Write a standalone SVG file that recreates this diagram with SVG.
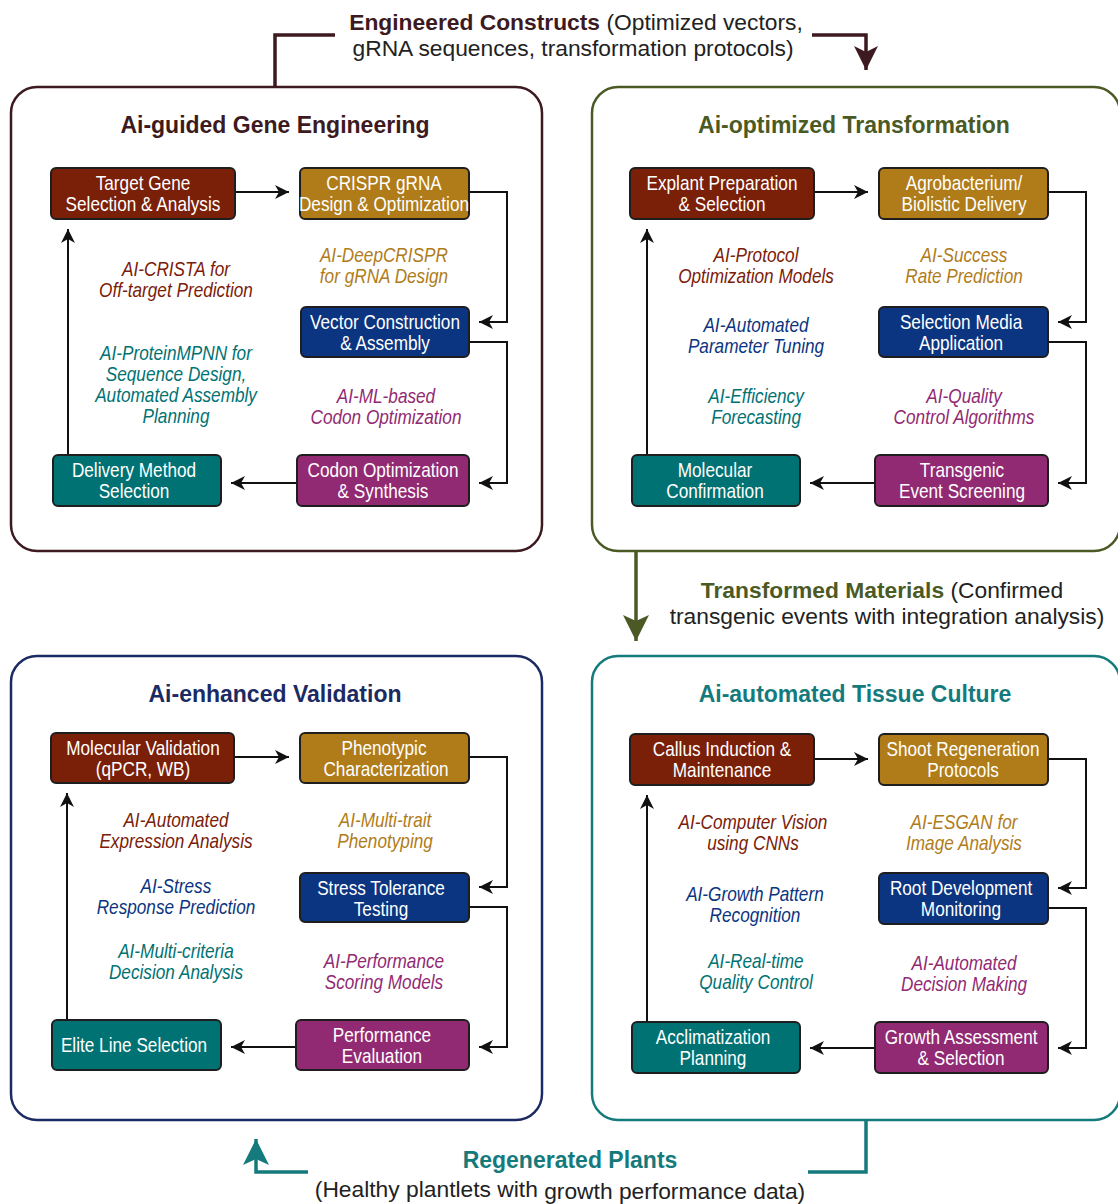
<svg xmlns="http://www.w3.org/2000/svg" width="1118" height="1204" viewBox="0 0 1118 1204">
  <style>
    .panel { fill: #ffffff; stroke-width: 2.5; }
    .box { stroke: #1e1e1e; stroke-width: 2; }
    .red { fill: #7b2008; }
    .gold { fill: #b07c19; }
    .navy { fill: #0b3580; }
    .purple { fill: #912a73; }
    .teal { fill: #007273; }
    .nt, .lb { font-family: "Liberation Sans", Arial, sans-serif; font-size: 20px; text-anchor: middle;
               transform-box: fill-box; transform-origin: center; transform: scaleX(0.86); }
    .nt { fill: #ffffff; }
    .lb { font-style: italic; }
    .ttl { font-family: "Liberation Sans", Arial, sans-serif; font-size: 23px; font-weight: bold; text-anchor: middle; }
    .cap { font-family: "Liberation Sans", Arial, sans-serif; font-size: 22.8px; fill: #222222; text-anchor: middle; }
    .flow { fill: none; stroke: #111111; stroke-width: 2; marker-end: url(#ah); }
    .c-red { fill: #7b2008; }
    .c-gold { fill: #b07c19; }
    .c-navy { fill: #0b3580; }
    .c-purple { fill: #912a73; }
    .c-teal { fill: #007273; }
  </style>
  <defs>
    <marker id="ah" markerWidth="16" markerHeight="16" refX="14" refY="8" orient="auto" markerUnits="userSpaceOnUse">
      <path d="M0,1 L14,8 L0,15 L4,8 z" fill="#111111"/>
    </marker>
    <marker id="bigMaroon" markerWidth="26" markerHeight="26" refX="24" refY="13" orient="auto" markerUnits="userSpaceOnUse">
      <path d="M0,1 L24,13 L0,25 L6,13 z" fill="#3c1a20"/>
    </marker>
    <marker id="bigOlive" markerWidth="28" markerHeight="28" refX="26" refY="14" orient="auto" markerUnits="userSpaceOnUse">
      <path d="M0,1 L26,14 L0,27 L6,14 z" fill="#4b5a24"/>
    </marker>
    <marker id="bigTeal" markerWidth="28" markerHeight="28" refX="26" refY="14" orient="auto" markerUnits="userSpaceOnUse">
      <path d="M0,1 L26,14 L0,27 L6,14 z" fill="#157a7c"/>
    </marker>
  </defs>

  <!-- stage panels -->
  <g id="panel-gene-engineering">
    <rect class="panel" x="11" y="87" width="531" height="464" rx="26" stroke="#3c1a20"/>
    <text class="ttl" x="275" y="133" fill="#3c1a20">Ai-guided Gene Engineering</text>
  </g>
  <g id="panel-transformation">
    <rect class="panel" x="592" y="87" width="528" height="464" rx="26" stroke="#4b5a24"/>
    <text class="ttl" x="854" y="133" fill="#4b5a24">Ai-optimized Transformation</text>
  </g>
  <g id="panel-validation">
    <rect class="panel" x="11" y="656" width="531" height="464" rx="26" stroke="#1c2a63"/>
    <text class="ttl" x="275" y="702" fill="#1c2a63">Ai-enhanced Validation</text>
  </g>
  <g id="panel-tissue-culture">
    <rect class="panel" x="592" y="656" width="528" height="464" rx="26" stroke="#157a7c"/>
    <text class="ttl" x="855" y="702" fill="#157a7c">Ai-automated Tissue Culture</text>
  </g>

  <!-- hand-off connectors between stages -->
  <g id="stage-connectors">
    <path d="M275,87 V35 H335" fill="none" stroke="#3c1a20" stroke-width="3.5"/>
    <path d="M812,35 H866 V70" fill="none" stroke="#3c1a20" stroke-width="3.5" marker-end="url(#bigMaroon)"/>
    <path d="M636,551 V641" fill="none" stroke="#4b5a24" stroke-width="3.5" marker-end="url(#bigOlive)"/>
    <path d="M866,1120 V1172 H808" fill="none" stroke="#157a7c" stroke-width="3.5"/>
    <path d="M308,1172 H256 V1139" fill="none" stroke="#157a7c" stroke-width="3.5" marker-end="url(#bigTeal)"/>
  </g>

  <!-- hand-off captions -->
  <g id="caption-constructs">
    <text class="cap" x="576" y="30"><tspan font-weight="bold" fill="#3c1a20">Engineered Constructs</tspan> (Optimized vectors,</text>
    <text class="cap" x="573" y="56">gRNA sequences, transformation protocols)</text>
  </g>
  <g id="caption-materials">
    <text class="cap" x="882" y="598"><tspan font-weight="bold" fill="#4b5a24">Transformed Materials</tspan> (Confirmed</text>
    <text class="cap" x="887" y="624">transgenic events with integration analysis)</text>
  </g>
  <g id="caption-plants">
    <text class="ttl" x="570" y="1168" fill="#157a7c">Regenerated Plants</text>
    <text class="cap" x="560" y="1197">(Healthy plantlets with <tspan dy="2">growth performance data)</tspan></text>
  </g>

  <!-- step connectors inside panels -->
  <g id="step-connectors">
    <path class="flow" d="M235,192 H289"/>
    <path class="flow" d="M469,192 H507 V322 H479"/>
    <path class="flow" d="M469,342 H507 V483 H479"/>
    <path class="flow" d="M297,483 H231"/>
    <path class="flow" d="M68,455 V229"/>

    <path class="flow" d="M814,192 H868"/>
    <path class="flow" d="M1048,192 H1086 V322 H1058"/>
    <path class="flow" d="M1048,342 H1086 V483 H1058"/>
    <path class="flow" d="M875,483 H810"/>
    <path class="flow" d="M647,455 V229"/>

    <path class="flow" d="M234,757 H289"/>
    <path class="flow" d="M469,757 H507 V887 H479"/>
    <path class="flow" d="M469,907 H507 V1047 H479"/>
    <path class="flow" d="M296,1047 H231"/>
    <path class="flow" d="M67,1020 V793"/>

    <path class="flow" d="M814,759 H868"/>
    <path class="flow" d="M1048,759 H1086 V888 H1058"/>
    <path class="flow" d="M1048,908 H1086 V1048 H1058"/>
    <path class="flow" d="M875,1048 H810"/>
    <path class="flow" d="M647,1022 V795"/>
  </g>

  <!-- gene engineering steps -->
  <g id="target-gene">
    <rect class="box red" x="51" y="168" width="184" height="51" rx="5"/>
    <text class="nt" x="143" y="190">Target Gene</text>
    <text class="nt" x="143" y="211">Selection &amp; Analysis</text>
  </g>
  <g id="crispr-grna">
    <rect class="box gold" x="300" y="168" width="169" height="51" rx="5"/>
    <text class="nt" x="384" y="190">CRISPR gRNA</text>
    <text class="nt" x="384" y="211">Design &amp; Optimization</text>
  </g>
  <g id="vector-construction">
    <rect class="box navy" x="301" y="307" width="168" height="50" rx="5"/>
    <text class="nt" x="385" y="329">Vector Construction</text>
    <text class="nt" x="385" y="350">&amp; Assembly</text>
  </g>
  <g id="codon-optimization">
    <rect class="box purple" x="297" y="455" width="172" height="51" rx="5"/>
    <text class="nt" x="383" y="477">Codon Optimization</text>
    <text class="nt" x="383" y="498">&amp; Synthesis</text>
  </g>
  <g id="delivery-method">
    <rect class="box teal" x="53" y="455" width="168" height="51" rx="5"/>
    <text class="nt" x="134" y="477">Delivery Method</text>
    <text class="nt" x="134" y="498">Selection</text>
  </g>
  <g id="gene-engineering-notes">
    <text class="lb c-red" x="176" y="276">AI-CRISTA for</text>
    <text class="lb c-red" x="176" y="297">Off-target Prediction</text>
    <text class="lb c-gold" x="384" y="262">AI-DeepCRISPR</text>
    <text class="lb c-gold" x="384" y="283">for gRNA Design</text>
    <text class="lb c-teal" x="176" y="360">AI-ProteinMPNN for</text>
    <text class="lb c-teal" x="176" y="381">Sequence Design,</text>
    <text class="lb c-teal" x="176" y="402">Automated Assembly</text>
    <text class="lb c-teal" x="176" y="423">Planning</text>
    <text class="lb c-purple" x="386" y="403">AI-ML-based</text>
    <text class="lb c-purple" x="386" y="424">Codon Optimization</text>
  </g>

  <!-- transformation steps -->
  <g id="explant-preparation">
    <rect class="box red" x="630" y="168" width="184" height="51" rx="5"/>
    <text class="nt" x="722" y="190">Explant Preparation</text>
    <text class="nt" x="722" y="211">&amp; Selection</text>
  </g>
  <g id="agrobacterium-delivery">
    <rect class="box gold" x="879" y="168" width="169" height="51" rx="5"/>
    <text class="nt" x="964" y="190">Agrobacterium/</text>
    <text class="nt" x="964" y="211">Biolistic Delivery</text>
  </g>
  <g id="selection-media">
    <rect class="box navy" x="879" y="307" width="169" height="50" rx="5"/>
    <text class="nt" x="961" y="329">Selection Media</text>
    <text class="nt" x="961" y="350">Application</text>
  </g>
  <g id="transgenic-screening">
    <rect class="box purple" x="875" y="455" width="173" height="51" rx="5"/>
    <text class="nt" x="962" y="477">Transgenic</text>
    <text class="nt" x="962" y="498">Event Screening</text>
  </g>
  <g id="molecular-confirmation">
    <rect class="box teal" x="632" y="455" width="168" height="51" rx="5"/>
    <text class="nt" x="715" y="477">Molecular</text>
    <text class="nt" x="715" y="498">Confirmation</text>
  </g>
  <g id="transformation-notes">
    <text class="lb c-red" x="756" y="262">AI-Protocol</text>
    <text class="lb c-red" x="756" y="283">Optimization Models</text>
    <text class="lb c-gold" x="964" y="262">AI-Success</text>
    <text class="lb c-gold" x="964" y="283">Rate Prediction</text>
    <text class="lb c-navy" x="756" y="332">AI-Automated</text>
    <text class="lb c-navy" x="756" y="353">Parameter Tuning</text>
    <text class="lb c-teal" x="756" y="403">AI-Efficiency</text>
    <text class="lb c-teal" x="756" y="424">Forecasting</text>
    <text class="lb c-purple" x="964" y="403">AI-Quality</text>
    <text class="lb c-purple" x="964" y="424">Control Algorithms</text>
  </g>

  <!-- validation steps -->
  <g id="molecular-validation">
    <rect class="box red" x="51" y="733" width="183" height="50" rx="5"/>
    <text class="nt" x="143" y="755">Molecular Validation</text>
    <text class="nt" x="143" y="776">(qPCR, WB)</text>
  </g>
  <g id="phenotypic-characterization">
    <rect class="box gold" x="300" y="733" width="169" height="50" rx="5"/>
    <text class="nt" x="384" y="755">Phenotypic</text>
    <text class="nt" x="386" y="776">Characterization</text>
  </g>
  <g id="stress-tolerance">
    <rect class="box navy" x="300" y="873" width="169" height="49" rx="5"/>
    <text class="nt" x="381" y="895">Stress Tolerance</text>
    <text class="nt" x="381" y="916">Testing</text>
  </g>
  <g id="performance-evaluation">
    <rect class="box purple" x="296" y="1020" width="173" height="50" rx="5"/>
    <text class="nt" x="382" y="1042">Performance</text>
    <text class="nt" x="382" y="1063">Evaluation</text>
  </g>
  <g id="elite-line">
    <rect class="box teal" x="52" y="1020" width="169" height="50" rx="5"/>
    <text class="nt" x="134" y="1052">Elite Line Selection</text>
  </g>
  <g id="validation-notes">
    <text class="lb c-red" x="176" y="827">AI-Automated</text>
    <text class="lb c-red" x="176" y="848">Expression Analysis</text>
    <text class="lb c-gold" x="385" y="827">AI-Multi-trait</text>
    <text class="lb c-gold" x="385" y="848">Phenotyping</text>
    <text class="lb c-navy" x="176" y="893">AI-Stress</text>
    <text class="lb c-navy" x="176" y="914">Response Prediction</text>
    <text class="lb c-teal" x="176" y="958">AI-Multi-criteria</text>
    <text class="lb c-teal" x="176" y="979">Decision Analysis</text>
    <text class="lb c-purple" x="384" y="968">AI-Performance</text>
    <text class="lb c-purple" x="384" y="989">Scoring Models</text>
  </g>

  <!-- tissue culture steps -->
  <g id="callus-induction">
    <rect class="box red" x="630" y="734" width="184" height="51" rx="5"/>
    <text class="nt" x="722" y="756">Callus Induction &amp;</text>
    <text class="nt" x="722" y="777">Maintenance</text>
  </g>
  <g id="shoot-regeneration">
    <rect class="box gold" x="879" y="734" width="169" height="51" rx="5"/>
    <text class="nt" x="963" y="756">Shoot Regeneration</text>
    <text class="nt" x="963" y="777">Protocols</text>
  </g>
  <g id="root-development">
    <rect class="box navy" x="879" y="873" width="169" height="51" rx="5"/>
    <text class="nt" x="961" y="895">Root Development</text>
    <text class="nt" x="961" y="916">Monitoring</text>
  </g>
  <g id="growth-assessment">
    <rect class="box purple" x="875" y="1022" width="173" height="51" rx="5"/>
    <text class="nt" x="961" y="1044">Growth Assessment</text>
    <text class="nt" x="961" y="1065">&amp; Selection</text>
  </g>
  <g id="acclimatization">
    <rect class="box teal" x="632" y="1022" width="168" height="51" rx="5"/>
    <text class="nt" x="713" y="1044">Acclimatization</text>
    <text class="nt" x="713" y="1065">Planning</text>
  </g>
  <g id="tissue-culture-notes">
    <text class="lb c-red" x="753" y="829">AI-Computer Vision</text>
    <text class="lb c-red" x="753" y="850">using CNNs</text>
    <text class="lb c-gold" x="964" y="829">AI-ESGAN for</text>
    <text class="lb c-gold" x="964" y="850">Image Analysis</text>
    <text class="lb c-navy" x="755" y="901">AI-Growth Pattern</text>
    <text class="lb c-navy" x="755" y="922">Recognition</text>
    <text class="lb c-teal" x="756" y="968">AI-Real-time</text>
    <text class="lb c-teal" x="756" y="989">Quality Control</text>
    <text class="lb c-purple" x="964" y="970">AI-Automated</text>
    <text class="lb c-purple" x="964" y="991">Decision Making</text>
  </g>
</svg>
